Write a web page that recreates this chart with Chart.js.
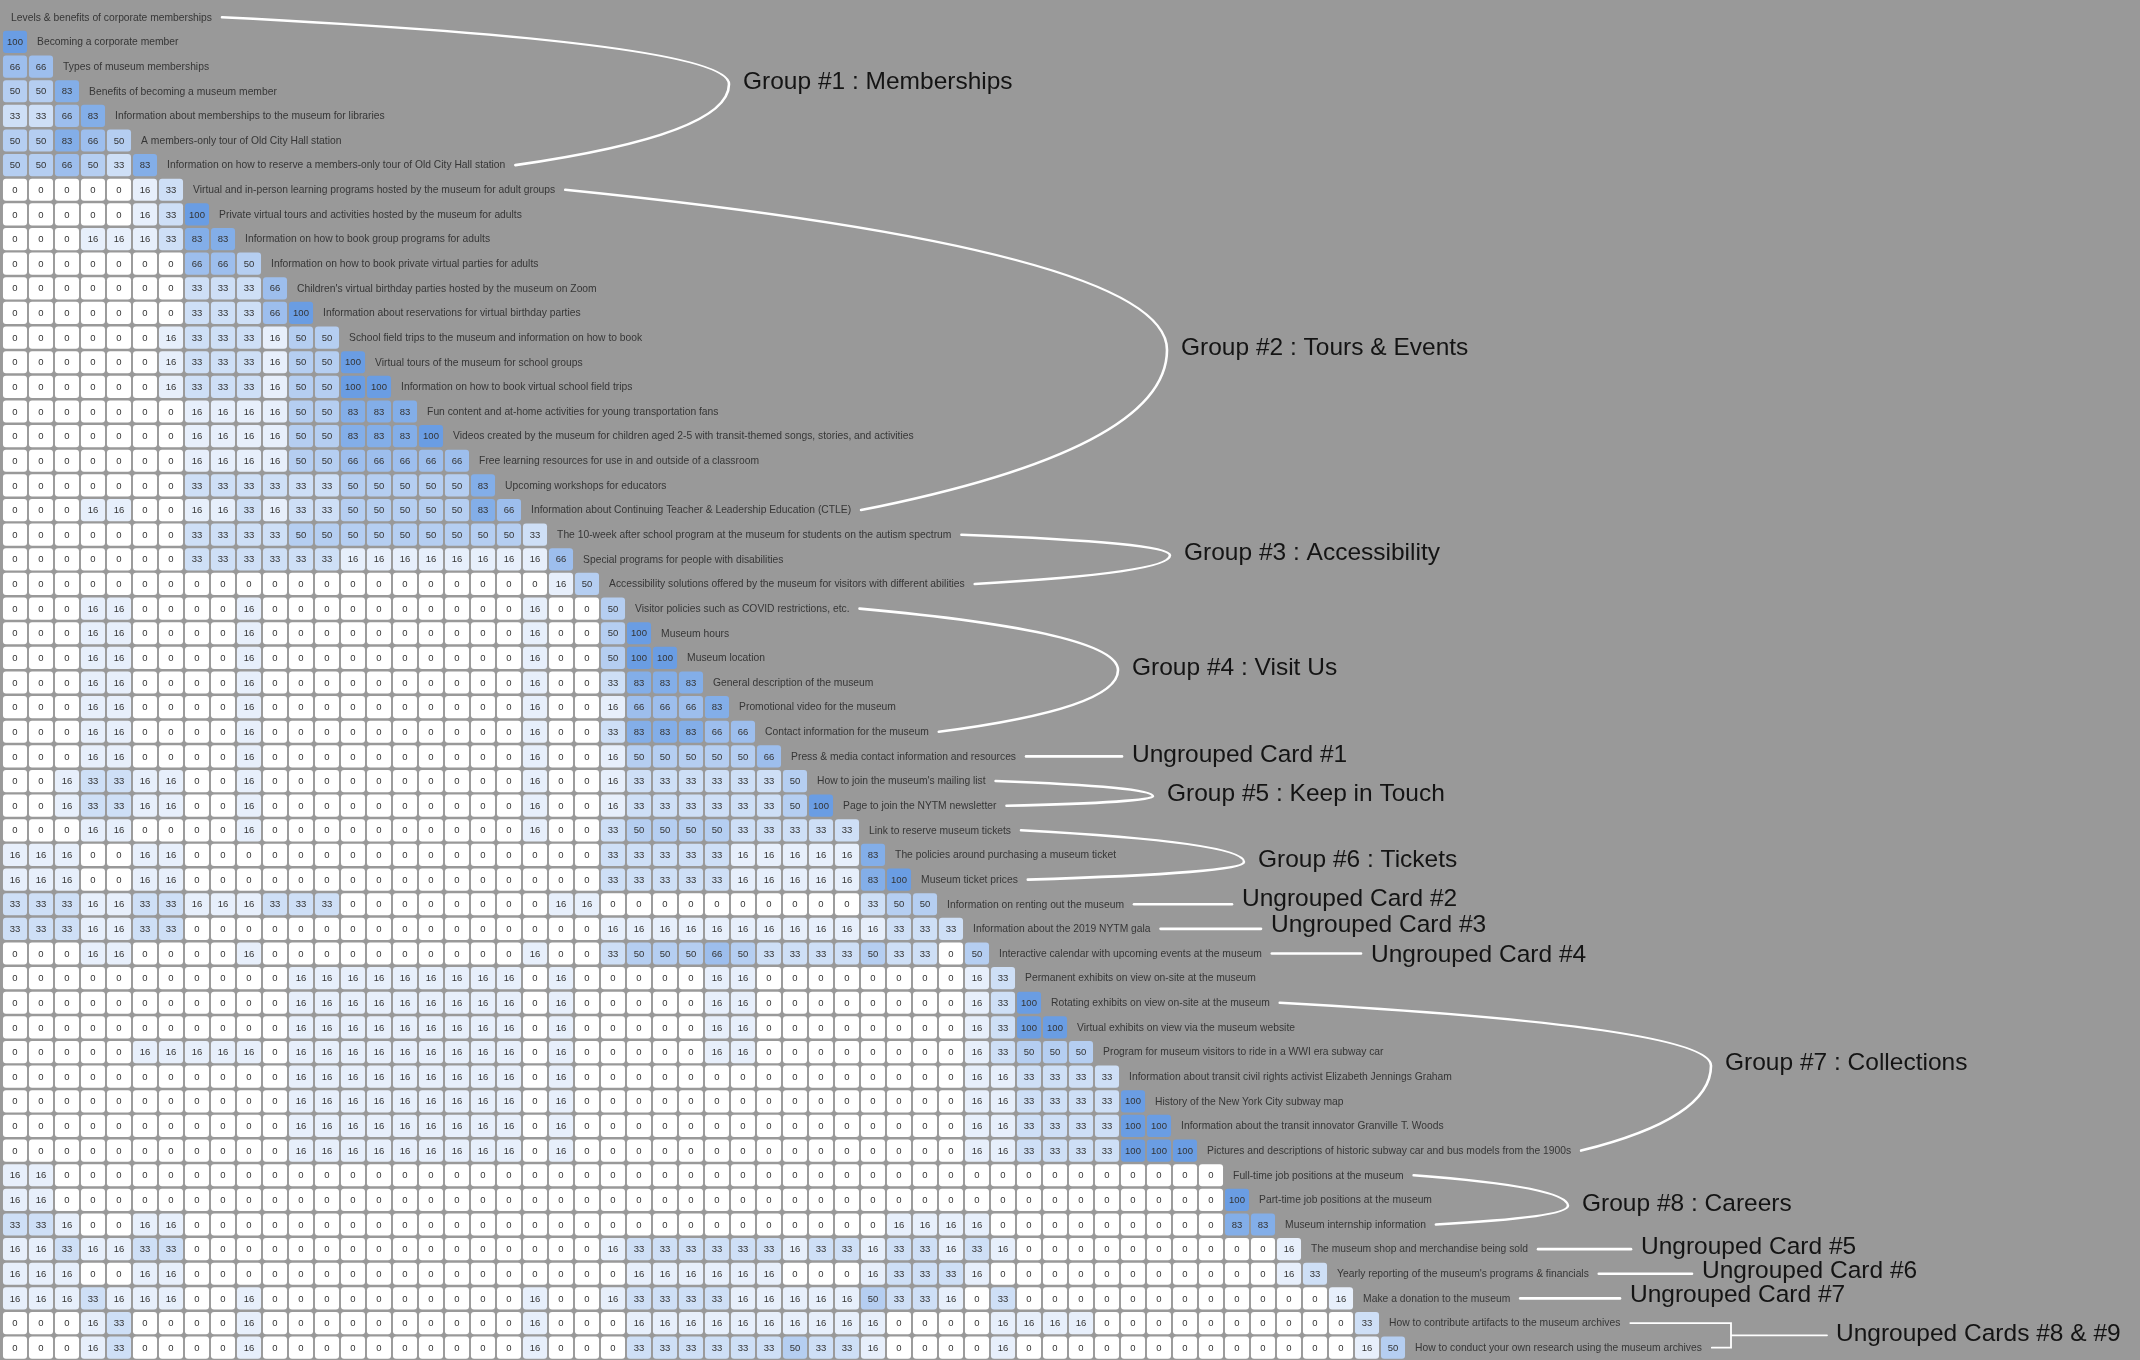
<!DOCTYPE html>
<html>
<head>
<meta charset="utf-8">
<title>Card similarity matrix</title>
<script src="https://cdn.jsdelivr.net/npm/chart.js@4.4.1/dist/chart.umd.min.js"></script>
<style>
  html, body { margin: 0; padding: 0; background: #999999; overflow: hidden; }
  #matrix { display: block; width: 2140px; height: 1360px; }
</style>
</head>
<body>
<canvas id="matrix" width="2140" height="1360"></canvas>
<script>
// card names, one per row (row i is compared with cards 0..i-1)
const cardLabels = [
  'Levels & benefits of corporate memberships',
  'Becoming a corporate member',
  'Types of museum memberships',
  'Benefits of becoming a museum member',
  'Information about memberships to the museum for libraries',
  'A members-only tour of Old City Hall station',
  'Information on how to reserve a members-only tour of Old City Hall station',
  'Virtual and in-person learning programs hosted by the museum for adult groups',
  'Private virtual tours and activities hosted by the museum for adults',
  'Information on how to book group programs for adults',
  'Information on how to book private virtual parties for adults',
  "Children's virtual birthday parties hosted by the museum on Zoom",
  'Information about reservations for virtual birthday parties',
  'School field trips to the museum and information on how to book',
  'Virtual tours of the museum for school groups',
  'Information on how to book virtual school field trips',
  'Fun content and at-home activities for young transportation fans',
  'Videos created by the museum for children aged 2-5 with transit-themed songs, stories, and activities',
  'Free learning resources for use in and outside of a classroom',
  'Upcoming workshops for educators',
  'Information about Continuing Teacher & Leadership Education (CTLE)',
  'The 10-week after school program at the museum for students on the autism spectrum',
  'Special programs for people with disabilities',
  'Accessibility solutions offered by the museum for visitors with different abilities',
  'Visitor policies such as COVID restrictions, etc.',
  'Museum hours',
  'Museum location',
  'General description of the museum',
  'Promotional video for the museum',
  'Contact information for the museum',
  'Press & media contact information and resources',
  "How to join the museum's mailing list",
  'Page to join the NYTM newsletter',
  'Link to reserve museum tickets',
  'The policies around purchasing a museum ticket',
  'Museum ticket prices',
  'Information on renting out the museum',
  'Information about the 2019 NYTM gala',
  'Interactive calendar with upcoming events at the museum',
  'Permanent exhibits on view on-site at the museum',
  'Rotating exhibits on view on-site at the museum',
  'Virtual exhibits on view via the museum website',
  'Program for museum visitors to ride in a WWI era subway car',
  'Information about transit civil rights activist Elizabeth Jennings Graham',
  'History of the New York City subway map',
  'Information about the transit innovator Granville T. Woods',
  'Pictures and descriptions of historic subway car and bus models from the 1900s',
  'Full-time job positions at the museum',
  'Part-time job positions at the museum',
  'Museum internship information',
  'The museum shop and merchandise being sold',
  "Yearly reporting of the museum's programs & financials",
  'Make a donation to the museum',
  'How to contribute artifacts to the museum archives',
  'How to conduct your own research using the museum archives'
];

// % of participants who grouped card i with card j (row i, column j < i)
const similarity = [
  [],
  [100],
  [66,66],
  [50,50,83],
  [33,33,66,83],
  [50,50,83,66,50],
  [50,50,66,50,33,83],
  [0,0,0,0,0,16,33],
  [0,0,0,0,0,16,33,100],
  [0,0,0,16,16,16,33,83,83],
  [0,0,0,0,0,0,0,66,66,50],
  [0,0,0,0,0,0,0,33,33,33,66],
  [0,0,0,0,0,0,0,33,33,33,66,100],
  [0,0,0,0,0,0,16,33,33,33,16,50,50],
  [0,0,0,0,0,0,16,33,33,33,16,50,50,100],
  [0,0,0,0,0,0,16,33,33,33,16,50,50,100,100],
  [0,0,0,0,0,0,0,16,16,16,16,50,50,83,83,83],
  [0,0,0,0,0,0,0,16,16,16,16,50,50,83,83,83,100],
  [0,0,0,0,0,0,0,16,16,16,16,50,50,66,66,66,66,66],
  [0,0,0,0,0,0,0,33,33,33,33,33,33,50,50,50,50,50,83],
  [0,0,0,16,16,0,0,16,16,33,16,33,33,50,50,50,50,50,83,66],
  [0,0,0,0,0,0,0,33,33,33,33,50,50,50,50,50,50,50,50,50,33],
  [0,0,0,0,0,0,0,33,33,33,33,33,33,16,16,16,16,16,16,16,16,66],
  [0,0,0,0,0,0,0,0,0,0,0,0,0,0,0,0,0,0,0,0,0,16,50],
  [0,0,0,16,16,0,0,0,0,16,0,0,0,0,0,0,0,0,0,0,16,0,0,50],
  [0,0,0,16,16,0,0,0,0,16,0,0,0,0,0,0,0,0,0,0,16,0,0,50,100],
  [0,0,0,16,16,0,0,0,0,16,0,0,0,0,0,0,0,0,0,0,16,0,0,50,100,100],
  [0,0,0,16,16,0,0,0,0,16,0,0,0,0,0,0,0,0,0,0,16,0,0,33,83,83,83],
  [0,0,0,16,16,0,0,0,0,16,0,0,0,0,0,0,0,0,0,0,16,0,0,16,66,66,66,83],
  [0,0,0,16,16,0,0,0,0,16,0,0,0,0,0,0,0,0,0,0,16,0,0,33,83,83,83,66,66],
  [0,0,0,16,16,0,0,0,0,16,0,0,0,0,0,0,0,0,0,0,16,0,0,16,50,50,50,50,50,66],
  [0,0,16,33,33,16,16,0,0,16,0,0,0,0,0,0,0,0,0,0,16,0,0,16,33,33,33,33,33,33,50],
  [0,0,16,33,33,16,16,0,0,16,0,0,0,0,0,0,0,0,0,0,16,0,0,16,33,33,33,33,33,33,50,100],
  [0,0,0,16,16,0,0,0,0,16,0,0,0,0,0,0,0,0,0,0,16,0,0,33,50,50,50,50,33,33,33,33,33],
  [16,16,16,0,0,16,16,0,0,0,0,0,0,0,0,0,0,0,0,0,0,0,0,33,33,33,33,33,16,16,16,16,16,83],
  [16,16,16,0,0,16,16,0,0,0,0,0,0,0,0,0,0,0,0,0,0,0,0,33,33,33,33,33,16,16,16,16,16,83,100],
  [33,33,33,16,16,33,33,16,16,16,33,33,33,0,0,0,0,0,0,0,0,16,16,0,0,0,0,0,0,0,0,0,0,33,50,50],
  [33,33,33,16,16,33,33,0,0,0,0,0,0,0,0,0,0,0,0,0,0,0,0,16,16,16,16,16,16,16,16,16,16,16,33,33,33],
  [0,0,0,16,16,0,0,0,0,16,0,0,0,0,0,0,0,0,0,0,16,0,0,33,50,50,50,66,50,33,33,33,33,50,33,33,0,50],
  [0,0,0,0,0,0,0,0,0,0,0,16,16,16,16,16,16,16,16,16,0,16,0,0,0,0,0,16,16,0,0,0,0,0,0,0,0,16,33],
  [0,0,0,0,0,0,0,0,0,0,0,16,16,16,16,16,16,16,16,16,0,16,0,0,0,0,0,16,16,0,0,0,0,0,0,0,0,16,33,100],
  [0,0,0,0,0,0,0,0,0,0,0,16,16,16,16,16,16,16,16,16,0,16,0,0,0,0,0,16,16,0,0,0,0,0,0,0,0,16,33,100,100],
  [0,0,0,0,0,16,16,16,16,16,0,16,16,16,16,16,16,16,16,16,0,16,0,0,0,0,0,16,16,0,0,0,0,0,0,0,0,16,33,50,50,50],
  [0,0,0,0,0,0,0,0,0,0,0,16,16,16,16,16,16,16,16,16,0,16,0,0,0,0,0,0,0,0,0,0,0,0,0,0,0,16,16,33,33,33,33],
  [0,0,0,0,0,0,0,0,0,0,0,16,16,16,16,16,16,16,16,16,0,16,0,0,0,0,0,0,0,0,0,0,0,0,0,0,0,16,16,33,33,33,33,100],
  [0,0,0,0,0,0,0,0,0,0,0,16,16,16,16,16,16,16,16,16,0,16,0,0,0,0,0,0,0,0,0,0,0,0,0,0,0,16,16,33,33,33,33,100,100],
  [0,0,0,0,0,0,0,0,0,0,0,16,16,16,16,16,16,16,16,16,0,16,0,0,0,0,0,0,0,0,0,0,0,0,0,0,0,16,16,33,33,33,33,100,100,100],
  [16,16,0,0,0,0,0,0,0,0,0,0,0,0,0,0,0,0,0,0,0,0,0,0,0,0,0,0,0,0,0,0,0,0,0,0,0,0,0,0,0,0,0,0,0,0,0],
  [16,16,0,0,0,0,0,0,0,0,0,0,0,0,0,0,0,0,0,0,0,0,0,0,0,0,0,0,0,0,0,0,0,0,0,0,0,0,0,0,0,0,0,0,0,0,0,100],
  [33,33,16,0,0,16,16,0,0,0,0,0,0,0,0,0,0,0,0,0,0,0,0,0,0,0,0,0,0,0,0,0,0,0,16,16,16,16,0,0,0,0,0,0,0,0,0,83,83],
  [16,16,33,16,16,33,33,0,0,0,0,0,0,0,0,0,0,0,0,0,0,0,0,16,33,33,33,33,33,33,16,33,33,16,33,33,16,33,16,0,0,0,0,0,0,0,0,0,0,16],
  [16,16,16,0,0,16,16,0,0,0,0,0,0,0,0,0,0,0,0,0,0,0,0,0,16,16,16,16,16,16,0,0,0,16,33,33,33,16,0,0,0,0,0,0,0,0,0,0,0,16,33],
  [16,16,16,33,16,16,16,0,0,16,0,0,0,0,0,0,0,0,0,0,16,0,0,16,33,33,33,33,16,16,16,16,16,50,33,33,16,0,33,0,0,0,0,0,0,0,0,0,0,0,0,16],
  [0,0,0,16,33,0,0,0,0,16,0,0,0,0,0,0,0,0,0,0,16,0,0,0,16,16,16,16,16,16,16,16,16,16,0,0,0,0,16,16,16,16,0,0,0,0,0,0,0,0,0,0,33],
  [0,0,0,16,33,0,0,0,0,16,0,0,0,0,0,0,0,0,0,0,16,0,0,0,33,33,33,33,33,33,50,33,33,16,0,0,0,0,16,0,0,0,0,0,0,0,0,0,0,0,0,0,16,50]
];

// annotation groups: name and the first / last card row they bracket
const groupNames = [
  'Group #1 : Memberships', 'Group #2 : Tours & Events', 'Group #3 : Accessibility',
  'Group #4 : Visit Us', 'Ungrouped Card #1', 'Group #5 : Keep in Touch', 'Group #6 : Tickets',
  'Ungrouped Card #2', 'Ungrouped Card #3', 'Ungrouped Card #4', 'Group #7 : Collections',
  'Group #8 : Careers', 'Ungrouped Card #5', 'Ungrouped Card #6', 'Ungrouped Card #7',
  'Ungrouped Cards #8 & #9'
];
const groupFirstRow = [0, 7, 21, 24, 30, 31, 33, 36, 37, 38, 40, 47, 50, 51, 52, 53];
const groupLastRow  = [6, 20, 23, 29, 30, 32, 35, 36, 37, 38, 46, 49, 50, 51, 52, 54];

// layout only: where each annotation text sits (px) and how it is connected
const groupTextX  = [743, 1181, 1184, 1132, 1132, 1167, 1258, 1242, 1271, 1371, 1725, 1582, 1641, 1702, 1630, 1836];
const groupTextDy = [-7, 0, -4, 0, 0, 3, 7, -4, -3, 3, -11, 6, -1, -2, -2, 0];
const groupConnector = ['arc','arc','arc','arc','line','arc','arc','line','line','line','arc','arc','line','line','line','bracket'];

const LABEL_FONT = '10.3px "Liberation Sans", Arial, sans-serif';
const CELL_FONT = '9.5px "Liberation Sans", Arial, sans-serif';
const GROUP_FONT = '24.5px "Liberation Sans", Arial, sans-serif';

// white -> blue depending on the percentage
function cellColor(v) {
  const t = v / 100;
  const r = Math.round(255 + (106 - 255) * t);
  const g = Math.round(255 + (157 - 255) * t);
  const b = Math.round(255 + (227 - 255) * t);
  return `rgb(${r},${g},${b})`;
}

const cells = [];
similarity.forEach((row, r) => {
  row.forEach((v, c) => {
    cells.push({ x: [c + 0.05, c + 0.95], y: r, v });
  });
});

// numbers inside the cells + card names beside the diagonal
const matrixTextPlugin = {
  id: 'matrixText',
  afterDatasetsDraw(chart) {
    const { ctx } = chart;
    const xs = chart.scales.x, ys = chart.scales.y;
    const meta = chart.getDatasetMeta(0);
    ctx.save();
    ctx.textAlign = 'center';
    ctx.textBaseline = 'middle';
    ctx.font = CELL_FONT;
    ctx.fillStyle = '#333';
    meta.data.forEach((bar, i) => {
      const p = bar.getCenterPoint();
      ctx.fillText(String(cells[i].v), p.x, p.y + 0.5);
    });
    ctx.textAlign = 'left';
    ctx.font = LABEL_FONT;
    ctx.fillStyle = '#363636';
    cardLabels.forEach((t, r) => {
      ctx.fillText(t, xs.getPixelForValue(r + 0.35), ys.getPixelForValue(r) + 0.5);
    });
    ctx.restore();
  }
};

// white connectors and group names on the right
const groupAnnotationPlugin = {
  id: 'groupAnnotations',
  afterDraw(chart) {
    const { ctx } = chart;
    const xs = chart.scales.x, ys = chart.scales.y;
    ctx.save();
    ctx.font = LABEL_FONT;
    const labelEnd = (r) => xs.getPixelForValue(r + 0.35) + ctx.measureText(cardLabels[r]).width + 10;

    ctx.strokeStyle = '#ffffff';
    ctx.lineCap = 'round';
    const textY = [];
    groupNames.forEach((name, i) => {
      const a = groupFirstRow[i], b = groupLastRow[i];
      const tx = groupTextX[i], dy = groupTextDy[i];
      const ya = ys.getPixelForValue(a), yb = ys.getPixelForValue(b);
      const xa = labelEnd(a), xb = labelEnd(b);
      ctx.lineWidth = 2.6;
      ctx.beginPath();
      if (groupConnector[i] === 'line') {
        ctx.moveTo(xa, ya);
        ctx.lineTo(tx - 10, ya);
        textY.push(ya - 1 + dy);
      } else if (groupConnector[i] === 'bracket') {
        const bx = tx - 105, ym = (ya + yb) / 2;
        ctx.moveTo(xa, ya);
        ctx.lineTo(bx, ya);
        ctx.lineTo(bx, yb);
        ctx.lineTo(xb, yb);
        ctx.moveTo(bx, ym);
        ctx.lineTo(tx - 9, ym);
        ctx.lineWidth = 1.8;
        textY.push(ym - 1 + dy);
      } else {
        const ax = tx - 14, ym = (ya + yb) / 2 + dy;
        ctx.moveTo(xa, ya);
        ctx.quadraticCurveTo(ax, ya + 0.38 * (ym - ya), ax, ym);
        ctx.quadraticCurveTo(ax, yb - 0.38 * (yb - ym), xb, yb);
        textY.push(ym - 2);
      }
      ctx.stroke();
    });

    ctx.font = GROUP_FONT;
    ctx.fillStyle = '#141414';
    ctx.textAlign = 'left';
    ctx.textBaseline = 'middle';
    groupNames.forEach((name, i) => ctx.fillText(name, groupTextX[i], textY[i]));
    ctx.restore();
  }
};

new Chart(document.getElementById('matrix'), {
  type: 'bar',
  data: {
    datasets: [{
      data: cells,
      backgroundColor: (c) => cellColor(c.raw ? c.raw.v : 0),
      borderWidth: 0,
      borderRadius: 3,
      borderSkipped: false,
      barThickness: 21.5
    }]
  },
  plugins: [matrixTextPlugin, groupAnnotationPlugin],
  options: {
    indexAxis: 'y',
    responsive: false,
    devicePixelRatio: 1,
    animation: false,
    layout: { padding: { left: 2, top: 5, right: 0, bottom: 0 } },
    scales: {
      x: { type: 'linear', min: 0, max: 2138 / 26, offset: false, display: false },
      y: { type: 'linear', min: -0.5, max: 54.5, reverse: true, offset: false, display: false }
    },
    plugins: {
      legend: { display: false },
      tooltip: { enabled: false }
    }
  }
});
</script>
</body>
</html>
